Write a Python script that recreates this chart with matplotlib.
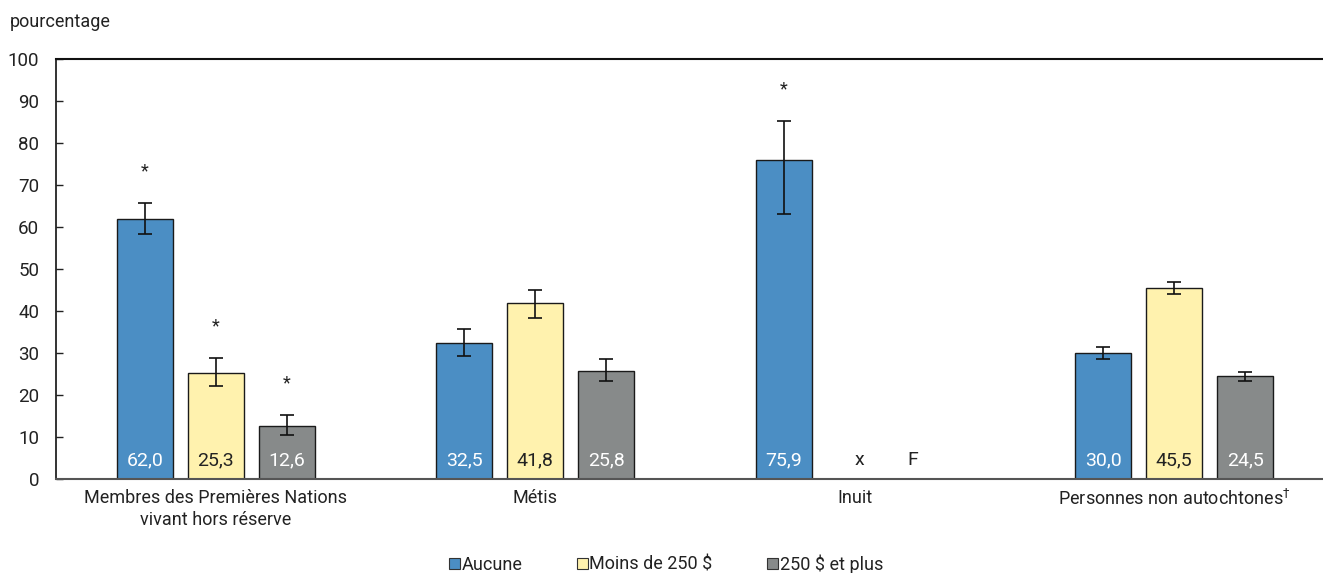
import numpy as np
import matplotlib
matplotlib.use("Agg")
import matplotlib.pyplot as plt
from matplotlib.patches import Patch

plt.rcParams['font.family'] = ['Roboto', 'DejaVu Sans']

categories = ["Membres des Premières Nations\nvivant hors réserve", "Métis", "Inuit",
              "Personnes non autochtones$^{\\dagger}$"]
series_names = ["Aucune", "Moins de 250 $", "250 $ et plus"]
# NaN marks suppressed values (x = confidential, F = unreliable)
aucune = [62.0, 32.5, 75.9, 30.0]
moins_250 = [25.3, 41.8, np.nan, 45.5]
plus_250 = [12.6, 25.8, np.nan, 24.5]
# 95% confidence interval bounds
low_aucune = [58.3, 29.4, 63.1, 28.6]
high_aucune = [65.6, 35.6, 85.2, 31.4]
low_moins = [22.2, 38.4, np.nan, 44.0]
high_moins = [28.8, 45.1, np.nan, 46.9]
low_plus = [10.5, 23.3, np.nan, 23.3]
high_plus = [15.2, 28.5, np.nan, 25.5]
signif_aucune = [True, False, True, False]
signif_moins = [True, False, False, False]
signif_plus = [True, False, False, False]
missing_codes = {(2, 1): "x", (2, 2): "F"}

colors = ["#4B8EC4", "#FFF2AE", "#878A8A"]
label_colors = ["white", "#222222", "white"]
text_color = "#222222"

fig = plt.figure(figsize=(13.23, 5.73), dpi=100)
ax = fig.add_axes([56 / 1323, 1 - 479 / 573, 1278 / 1323, 420 / 573])

x = np.arange(len(categories))
width = 0.175
step = 0.222
values = [aucune, moins_250, plus_250]
lows = [low_aucune, low_moins, low_plus]
highs = [high_aucune, high_moins, high_plus]
signifs = [signif_aucune, signif_moins, signif_plus]

for i in range(3):
    pos = x + (i - 1) * step
    vals = np.array(values[i], dtype=float)
    lo = np.array(lows[i], dtype=float)
    hi = np.array(highs[i], dtype=float)
    ok = ~np.isnan(vals)
    ax.bar(pos[ok], vals[ok], width, color=colors[i], edgecolor="#1a1a1a",
           linewidth=1.0, zorder=2)
    yerr = np.vstack([vals[ok] - lo[ok], hi[ok] - vals[ok]])
    ax.errorbar(pos[ok], vals[ok], yerr=yerr, fmt="none", ecolor="#111111",
                elinewidth=1.2, capsize=5, capthick=1.2, zorder=3)
    for j in np.where(ok)[0]:
        ax.text(pos[j], 4.5, f"{vals[j]:.1f}".replace(".", ","), ha="center",
                va="center", fontsize=14, color=label_colors[i], zorder=4)
        if signifs[i][j]:
            ax.text(pos[j], hi[j] + 7.6, "*", ha="center", va="center",
                    fontsize=13, color=text_color, zorder=4)

for (g, s), code in missing_codes.items():
    dx = 5 if code == "x" else -13
    ax.annotate(code, (x[g] + (s - 1) * step, 4.5), xytext=(dx, 0),
                textcoords="offset pixels", ha="center", va="center",
                fontsize=14, color=text_color)

ax.set_xlim(-0.5, 3.5)
ax.set_ylim(0, 100)
ax.set_yticks(np.arange(0, 101, 10))
ax.tick_params(axis="y", direction="in", length=5, width=1, color="#222222",
               labelsize=13.5, labelcolor=text_color, pad=12)
ax.set_xticks(x)
ax.set_xticklabels(categories, fontsize=13, color=text_color, linespacing=1.3)
ax.tick_params(axis="x", length=0, pad=7)

ax.spines["right"].set_visible(False)
ax.spines["left"].set_color("#111111")
ax.spines["left"].set_linewidth(1.2)
ax.spines["top"].set_color("#111111")
ax.spines["top"].set_linewidth(1.5)
ax.spines["bottom"].set_color("#555555")
ax.spines["bottom"].set_linewidth(1.5)

fig.text(10 / 1323, 1 - 22 / 573, "pourcentage", fontsize=13, color=text_color,
         ha="left", va="center")

handles = [Patch(facecolor=c, edgecolor="#333333", linewidth=0.8) for c in colors]
fig.legend(handles, series_names, loc="center", bbox_to_anchor=(666 / 1323, 1 - 564 / 573),
           ncol=3, frameon=False, fontsize=13, handlelength=0.6, handleheight=0.6,
           handletextpad=0.1, columnspacing=3.0, labelcolor=text_color)

fig.savefig("out.png", dpi=100)
